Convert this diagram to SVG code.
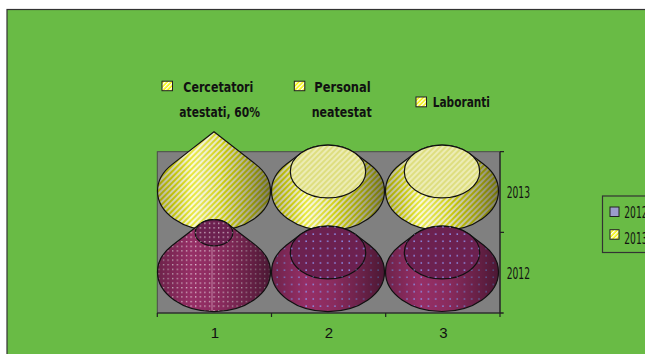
<svg xmlns="http://www.w3.org/2000/svg" xmlns:xlink="http://www.w3.org/1999/xlink" width="645" height="354" viewBox="0 0 645 354">
<style>
.lbl{font-family:"Liberation Sans Narrow","DejaVu Sans Condensed","Liberation Sans",sans-serif;font-weight:bold;font-size:14px;fill:#111}
.yr{font-family:"Liberation Sans Narrow","DejaVu Sans Condensed","Liberation Sans",sans-serif;font-size:15px;fill:#111}
.ax{font-family:"Liberation Sans",Arial,sans-serif;font-size:15px;fill:#111;text-anchor:middle}
.ol{fill:none;stroke:#111;stroke-width:1.2;stroke-linejoin:round}
.ySide{fill:url(#yStripe)}
.yTop{fill:url(#yTopPat);stroke:#111;stroke-width:1.2}
.pSide{fill:#962f66}
.pTop{fill:#6c2150;stroke:#111;stroke-width:1.2}
.shade{fill:url(#shadeG)}
.hl{fill:url(#hlG)}
.wdots{fill:url(#wDot)}
.bdots{fill:url(#bDot)}
.sw{stroke:#222;stroke-width:1}
.axl{stroke:#222;stroke-width:1.2;fill:none}
</style>
<defs>
<pattern id="yStripe" width="4" height="4" patternUnits="userSpaceOnUse" patternTransform="rotate(45)">
<rect width="4" height="4" fill="#e2e210"/>
<rect width="2" height="4" fill="#f8f8cc"/>
</pattern>
<pattern id="yTopPat" width="4" height="4" patternUnits="userSpaceOnUse" patternTransform="rotate(45)">
<rect width="4" height="4" fill="#dede80"/>
<rect width="2" height="4" fill="#ececb4"/>
</pattern>
<pattern id="swPat" width="3" height="3" patternUnits="userSpaceOnUse" patternTransform="rotate(45)">
<rect width="3" height="3" fill="#f2f200"/>
<rect width="1.4" height="3" fill="#ffffff"/>
</pattern>
<pattern id="wDot" width="4.6" height="4.6" patternUnits="userSpaceOnUse">
<rect x="2" y="2" width="1.1" height="1.1" fill="#ffffff"/>
</pattern>
<pattern id="bDot" width="7.2" height="7.2" patternUnits="userSpaceOnUse">
<rect x="3" y="3" width="1.5" height="1.5" fill="#8e8ee8"/>
</pattern>
<linearGradient id="shadeG" x1="0" y1="0" x2="1" y2="0">
<stop offset="0" stop-color="#000" stop-opacity="0.28"/>
<stop offset="0.3" stop-color="#000" stop-opacity="0"/>
<stop offset="0.55" stop-color="#000" stop-opacity="0.08"/>
<stop offset="0.8" stop-color="#000" stop-opacity="0.3"/>
<stop offset="1" stop-color="#000" stop-opacity="0.5"/>
</linearGradient>
<linearGradient id="hlG" x1="0" y1="0" x2="1" y2="0">
<stop offset="0.15" stop-color="#fff" stop-opacity="0"/>
<stop offset="0.38" stop-color="#fff" stop-opacity="0.3"/>
<stop offset="0.6" stop-color="#fff" stop-opacity="0"/>
</linearGradient>
<path id="yc1" d="M157.5,191 A56.5,39.55 0 0 0 270.5,191 A56.5,39.55 0 0 0 256.1,164.6 L214,131.7 L171.9,164.6 A56.5,39.55 0 0 0 157.5,191 Z"/>
<path id="yc2" d="M271.5,191 A56.5,39.55 0 0 0 384.5,191 A56.5,39.55 0 0 0 369.7,164.3 L355.8,153.7 A37.7,26.39 0 0 0 300.2,153.7 L286.3,164.3 A56.5,39.55 0 0 0 271.5,191 Z"/>
<path id="yc3" d="M385.5,191 A56.5,39.55 0 0 0 498.5,191 A56.5,39.55 0 0 0 483.7,164.3 L469.8,153.7 A37.7,26.39 0 0 0 414.2,153.7 L400.3,164.3 A56.5,39.55 0 0 0 385.5,191 Z"/>
<path id="pc1" d="M157.5,272 A56.5,39.55 0 0 0 270.5,272 A56.5,39.55 0 0 0 255.9,245.4 L227.9,223.9 A18.8,13.16 0 0 0 200.1,223.9 L172.1,245.4 A56.5,39.55 0 0 0 157.5,272 Z"/>
<path id="pc2" d="M271.5,272 A56.5,39.55 0 0 0 384.5,272 A56.5,39.55 0 0 0 369.7,245.3 L355.8,234.7 A37.7,26.39 0 0 0 300.2,234.7 L286.3,245.3 A56.5,39.55 0 0 0 271.5,272 Z"/>
<path id="pc3" d="M385.5,272 A56.5,39.55 0 0 0 498.5,272 A56.5,39.55 0 0 0 483.7,245.3 L469.8,234.7 A37.7,26.39 0 0 0 414.2,234.7 L400.3,245.3 A56.5,39.55 0 0 0 385.5,272 Z"/>
</defs>

<g id="background">
<rect x="0" y="0" width="645" height="354" fill="#ffffff"/>
<rect x="7" y="9.5" width="700" height="400" fill="#69bb45" stroke="#333" stroke-width="1.2"/>
</g>

<g id="plot-area">
<rect x="157.3" y="151.7" width="342.7" height="161.3" fill="#808080" stroke="#4a4a4a" stroke-width="1"/>
</g>

<g id="cone-2013-1">
<use xlink:href="#yc1" class="ySide"/><use xlink:href="#yc1" class="hl"/><use xlink:href="#yc1" class="shade"/><use xlink:href="#yc1" class="ol"/>
</g>
<g id="cone-2013-2">
<use xlink:href="#yc2" class="ySide"/><use xlink:href="#yc2" class="hl"/><use xlink:href="#yc2" class="shade"/><use xlink:href="#yc2" class="ol"/>
<ellipse cx="328" cy="171.5" rx="37.7" ry="26.39" class="yTop"/>
</g>
<g id="cone-2013-3">
<use xlink:href="#yc3" class="ySide"/><use xlink:href="#yc3" class="hl"/><use xlink:href="#yc3" class="shade"/><use xlink:href="#yc3" class="ol"/>
<ellipse cx="442" cy="171.5" rx="37.7" ry="26.39" class="yTop"/>
</g>

<g id="cone-2012-1">
<use xlink:href="#pc1" class="pSide"/><use xlink:href="#pc1" class="wdots"/><use xlink:href="#pc1" class="shade"/>
<line x1="212" y1="246" x2="212" y2="311" stroke="#e6b8d0" stroke-width="1" opacity="0.6"/>
<use xlink:href="#pc1" class="ol"/>
<ellipse cx="214" cy="232.7" rx="18.8" ry="13.16" class="pTop"/>
<ellipse cx="214" cy="232.7" rx="18.8" ry="13.16" class="wdots"/>
</g>
<g id="cone-2012-2">
<use xlink:href="#pc2" class="pSide"/><use xlink:href="#pc2" class="bdots"/><use xlink:href="#pc2" class="shade"/><use xlink:href="#pc2" class="ol"/>
<ellipse cx="328" cy="252.5" rx="37.7" ry="26.39" class="pTop"/>
<ellipse cx="328" cy="252.5" rx="37.7" ry="26.39" class="bdots"/>
</g>
<g id="cone-2012-3">
<use xlink:href="#pc3" class="pSide"/><use xlink:href="#pc3" class="bdots"/><use xlink:href="#pc3" class="shade"/><use xlink:href="#pc3" class="ol"/>
<ellipse cx="442" cy="252.5" rx="37.7" ry="26.39" class="pTop"/>
<ellipse cx="442" cy="252.5" rx="37.7" ry="26.39" class="bdots"/>
</g>

<g id="axes">
<path class="axl" d="M157,313 H503 M157.3,313 V317 M271.5,313 V317 M385.7,313 V317 M500,313 V317"/>
<path class="axl" d="M500,151.7 V313 M500,151.7 H504 M500,232.3 H504 M500,313 H504"/>
<text x="215" y="337.7" class="ax">1</text>
<text x="329" y="337.7" class="ax">2</text>
<text x="443.3" y="337.7" class="ax">3</text>
<text x="506.7" y="198.3" class="yr" textLength="23.3" lengthAdjust="spacingAndGlyphs">2013</text>
<text x="506.7" y="279.3" class="yr" textLength="23.3" lengthAdjust="spacingAndGlyphs">2012</text>
</g>

<g id="label-cercetatori">
<rect x="162" y="81.2" width="10.5" height="9.5" fill="url(#swPat)" class="sw"/>
<text x="183.3" y="91.7" class="lbl" textLength="70" lengthAdjust="spacingAndGlyphs">Cercetatori</text>
<text x="179.3" y="116.7" class="lbl" textLength="80.7" lengthAdjust="spacingAndGlyphs">atestati, 60%</text>
</g>
<g id="label-personal">
<rect x="294.3" y="81.2" width="10.5" height="9.5" fill="url(#swPat)" class="sw"/>
<text x="314.3" y="92" class="lbl" textLength="56.4" lengthAdjust="spacingAndGlyphs">Personal</text>
<text x="311.7" y="117" class="lbl" textLength="60" lengthAdjust="spacingAndGlyphs">neatestat</text>
</g>
<g id="label-laboranti">
<rect x="416" y="97" width="10.5" height="9.8" fill="url(#swPat)" class="sw"/>
<text x="432.7" y="107.3" class="lbl" textLength="57.3" lengthAdjust="spacingAndGlyphs">Laboranti</text>
</g>

<g id="legend">
<rect x="602.5" y="196" width="60" height="56.5" fill="none" stroke="#333" stroke-width="1.2"/>
<rect x="610" y="207" width="9" height="9.5" fill="#9c9ccc" class="sw"/>
<text x="624.3" y="217.7" class="yr" textLength="23.3" lengthAdjust="spacingAndGlyphs">2012</text>
<rect x="610" y="229.7" width="9" height="9.5" fill="url(#swPat)" class="sw"/>
<text x="624.3" y="244.3" class="yr" textLength="23.3" lengthAdjust="spacingAndGlyphs">2013</text>
</g>
</svg>
